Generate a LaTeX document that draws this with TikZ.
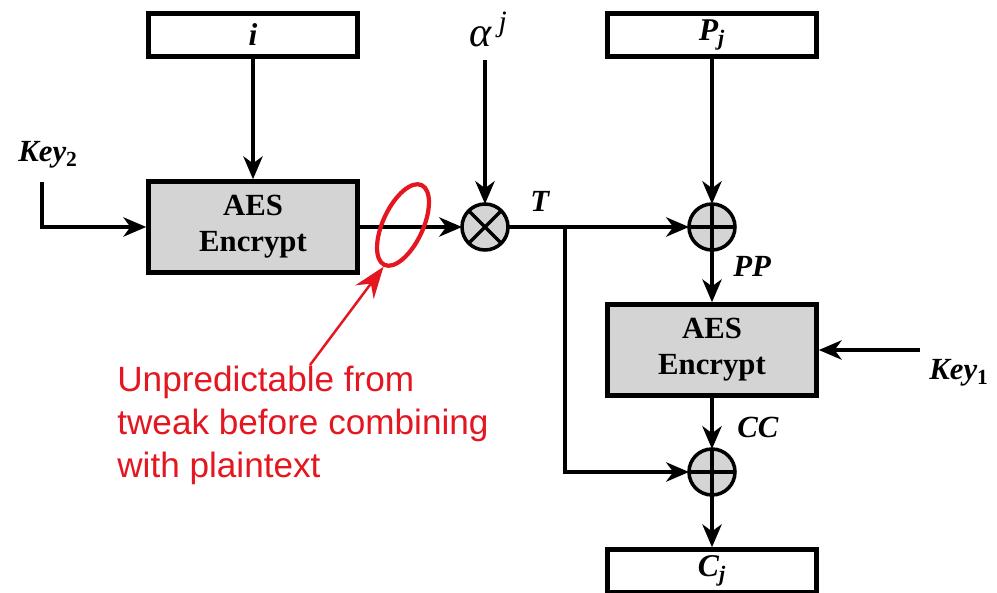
\documentclass[tikz,border=0pt]{standalone}
\usepackage{fontspec}
\setmainfont{Liberation Serif}
\setsansfont{Liberation Sans}
\usetikzlibrary{arrows.meta,shapes.geometric}
\definecolor{boxG}{RGB}{212,212,212}
\definecolor{noteR}{RGB}{228,22,32}
\tikzset{
  blk/.style={draw,line width=2.6pt,minimum width=4.18cm,inner sep=0pt},
  io/.style={blk,fill=white,minimum height=0.86cm,font=\fontsize{18}{20}\selectfont\bfseries\itshape},
  aes/.style={blk,fill=boxG,minimum height=1.82cm,align=center,font=\fontsize{17.5}{20.6}\selectfont\bfseries},
  op/.style={circle,draw,line width=2pt,fill=boxG,minimum size=0.92cm,inner sep=0pt,outer sep=0pt},
  lab/.style={font=\fontsize{17.5}{20}\selectfont\bfseries\itshape,inner sep=0pt},
  arr/.style={line width=2pt,-{Stealth[length=13pt,width=11pt,inset=4pt]}},
  note/.style={text=noteR,font=\fontsize{20}{24.4}\selectfont\sffamily,align=left,inner sep=0pt}
}

\begin{document}
\begin{tikzpicture}[x=0.2mm,y=-0.2mm]
\useasboundingbox (0,0) rectangle (997,593);
% left column: tweak i through AES under Key2
\node[io] (ibox) at (253,35) {i};
\node[aes] (aes1) at (253,227) {AES\\Encrypt};
\node[lab,anchor=base west] (key2) at (18,162) {Key\textsubscript{\upshape 2}};
\coordinate (k2) at (42,182);
% multiply by alpha^j
\node[op] (mul) at (485,227) {};
\draw[line width=2pt] (mul.north west)--(mul.south east) (mul.north east)--(mul.south west);
\node[font=\fontsize{24}{26}\selectfont\itshape,inner sep=0pt,anchor=base west] (alpha) at (469,47) {α\,\textsuperscript{j}};
\coordinate (a0) at (485,60);
\node[lab,anchor=base west] (tlab) at (530,212) {T};
\coordinate (br) at (565,227);
% right column: P_j -> xor -> AES -> xor -> C_j
\node[io] (pj) at (712,35) {P\textsubscript{j}};
\node[op] (xor1) at (712,227) {};
\draw[line width=2pt] (xor1.north)--(xor1.south) (xor1.west)--(xor1.east);
\node[lab,anchor=base west] (pplab) at (733,277) {PP};
\node[aes] (aes2) at (712,350) {AES\\Encrypt};
\node[lab,anchor=base west] (key1) at (929,380) {Key\textsubscript{\upshape 1}};
\coordinate (k1) at (920,350);
\node[lab,anchor=base west] (cclab) at (737,438) {CC};
\node[op] (xor2) at (712,472) {};
\draw[line width=2pt] (xor2.north)--(xor2.south) (xor2.west)--(xor2.east);
\node[io] (cj) at (712,571) {C\textsubscript{j}};
% connectors
\draw[arr] (ibox)--(aes1);
\draw[arr] (k2) |- (aes1.west);
\draw[arr] (aes1)--(mul);
\draw[arr] (a0)--(mul);
\draw[arr] (mul)--(xor1);
\draw[arr] (pj)--(xor1);
\draw[arr] (xor1)--(aes2);
\draw[arr] (k1)--(aes2);
\draw[arr] (aes2)--(xor2);
\draw[arr] (br) |- (xor2.west);
\draw[arr] (xor2)--(cj);
% red remark
\node[ellipse,draw=noteR,line width=2.4pt,minimum width=0.8cm,minimum height=1.76cm,inner sep=0pt,rotate=-25] (loop) at (403,225) {};
\node[note,anchor=north west] (note) at (117,366) {Unpredictable from\\tweak before combining\\with plaintext};
\coordinate (nt) at (310,365);
\draw[noteR,line width=1.4pt,-{Stealth[length=18pt,width=13pt,inset=6pt]}] (nt)--(loop.south);
\end{tikzpicture}
\end{document}
